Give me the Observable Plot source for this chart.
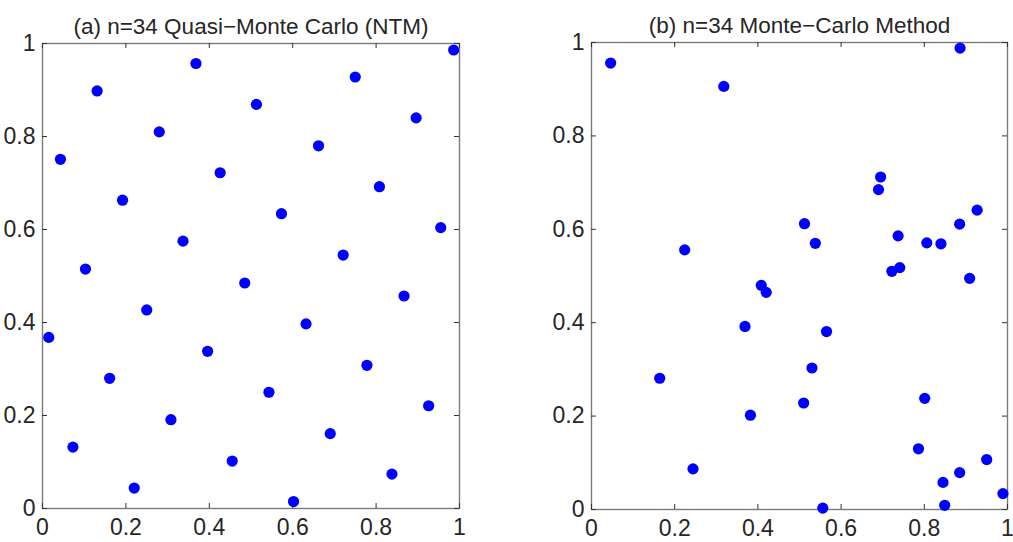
<!DOCTYPE html>
<html>
<head>
<meta charset="utf-8">
<script src="https://cdn.jsdelivr.net/npm/d3@7"></script>
<script src="https://cdn.jsdelivr.net/npm/@observablehq/plot@0.6"></script>
<style>
  html, body { margin: 0; padding: 0; background: #fff; }
  #wrap { position: relative; width: 1013px; height: 542px; overflow: hidden; }
  .panel { position: absolute; top: 0; }
</style>
</head>
<body>
<div id="wrap">
  <div class="panel" id="left" style="left:0px"></div>
  <div class="panel" id="right" style="left:500px"></div>
</div>
<script>
// ---- data ----
const titleA = "(a) n=34 Quasi\u2212Monte Carlo (NTM)";
const titleB = "(b) n=34 Monte\u2212Carlo Method";
const tickValues = [0, 0.2, 0.4, 0.6, 0.8, 1];
const tickLabels = ["0", "0.2", "0.4", "0.6", "0.8", "1"];

const qmcX = [0.015,0.043,0.073,0.103,0.131,0.161,0.192,0.220,0.250,0.280,0.308,0.337,0.368,0.396,0.426,0.455,0.485,0.513,0.543,0.573,0.602,0.632,0.662,0.690,0.721,0.750,0.778,0.808,0.838,0.867,0.896,0.926,0.955,0.986];
const qmcY = [0.368,0.751,0.132,0.515,0.898,0.280,0.663,0.044,0.427,0.810,0.191,0.575,0.957,0.338,0.722,0.102,0.485,0.869,0.250,0.634,0.015,0.397,0.780,0.161,0.545,0.928,0.308,0.692,0.074,0.457,0.840,0.221,0.604,0.986];

const mcX = [0.046,0.318,0.886,0.695,0.690,0.927,0.512,0.885,0.737,0.538,0.806,0.840,0.224,0.741,0.722,0.909,0.408,0.420,0.369,0.565,0.530,0.164,0.801,0.510,0.382,0.786,0.950,0.244,0.885,0.845,0.989,0.849,0.556];
const mcY = [0.956,0.906,0.988,0.712,0.685,0.641,0.612,0.611,0.586,0.570,0.571,0.569,0.556,0.518,0.510,0.495,0.480,0.465,0.392,0.381,0.303,0.281,0.238,0.228,0.202,0.130,0.107,0.087,0.079,0.058,0.034,0.009,0.003];

// ---- drawing ----
const FONT = "'Liberation Sans', Arial, Helvetica, sans-serif";
const TXT = "#262626";
const TICKLEN = 5;

function panel({xs, ys, title, width, height, mL, mR, mT, mB}) {
  const pts = xs.map((x, i) => ({x, y: ys[i]}));
  const fw = width - mL - mR;
  const fh = height - mT - mB;
  const fmt = d => tickLabels[tickValues.indexOf(d)];
  return Plot.plot({
    width, height,
    marginLeft: mL, marginRight: mR, marginTop: mT, marginBottom: mB,
    style: {fontFamily: FONT, background: "white", color: TXT, overflow: "visible"},
    x: {domain: [0, 1], axis: null},
    y: {domain: [0, 1], axis: null},
    marks: [
      Plot.frame({stroke: "#7a7a7a", strokeWidth: 1.4}),
      // inward tick marks on all four sides
      Plot.tickX(tickValues, {x: d => d, insetTop: fh - TICKLEN, stroke: "#333", strokeWidth: 1}),
      Plot.tickX(tickValues, {x: d => d, insetBottom: fh - TICKLEN, stroke: "#333", strokeWidth: 1}),
      Plot.tickY(tickValues, {y: d => d, insetLeft: fw - TICKLEN, stroke: "#333", strokeWidth: 1}),
      Plot.tickY(tickValues, {y: d => d, insetRight: fw - TICKLEN, stroke: "#333", strokeWidth: 1}),
      // tick labels
      Plot.axisX({anchor: "bottom", label: null, ticks: tickValues, tickFormat: fmt, tickSize: 0, tickPadding: 10, fontSize: 23, fill: TXT}),
      Plot.axisY({anchor: "left", label: null, ticks: tickValues, tickFormat: fmt, tickSize: 0, tickPadding: 7, fontSize: 23, fill: TXT}),
      // points
      Plot.dot(pts, {x: "x", y: "y", r: 5.6, fill: "#0000ff", stroke: "none"}),
      // title
      Plot.text([title], {frameAnchor: "top", dy: -25, fontSize: 22.5, fill: TXT})
    ]
  });
}

document.getElementById("left").append(panel({
  xs: qmcX, ys: qmcY, title: titleA,
  width: 500, height: 542, mL: 42, mR: 41, mT: 43, mB: 34
}));
document.getElementById("right").append(panel({
  xs: mcX, ys: mcY, title: titleB,
  width: 513, height: 542, mL: 91, mR: 6, mT: 42, mB: 33
}));
</script>
</body>
</html>
